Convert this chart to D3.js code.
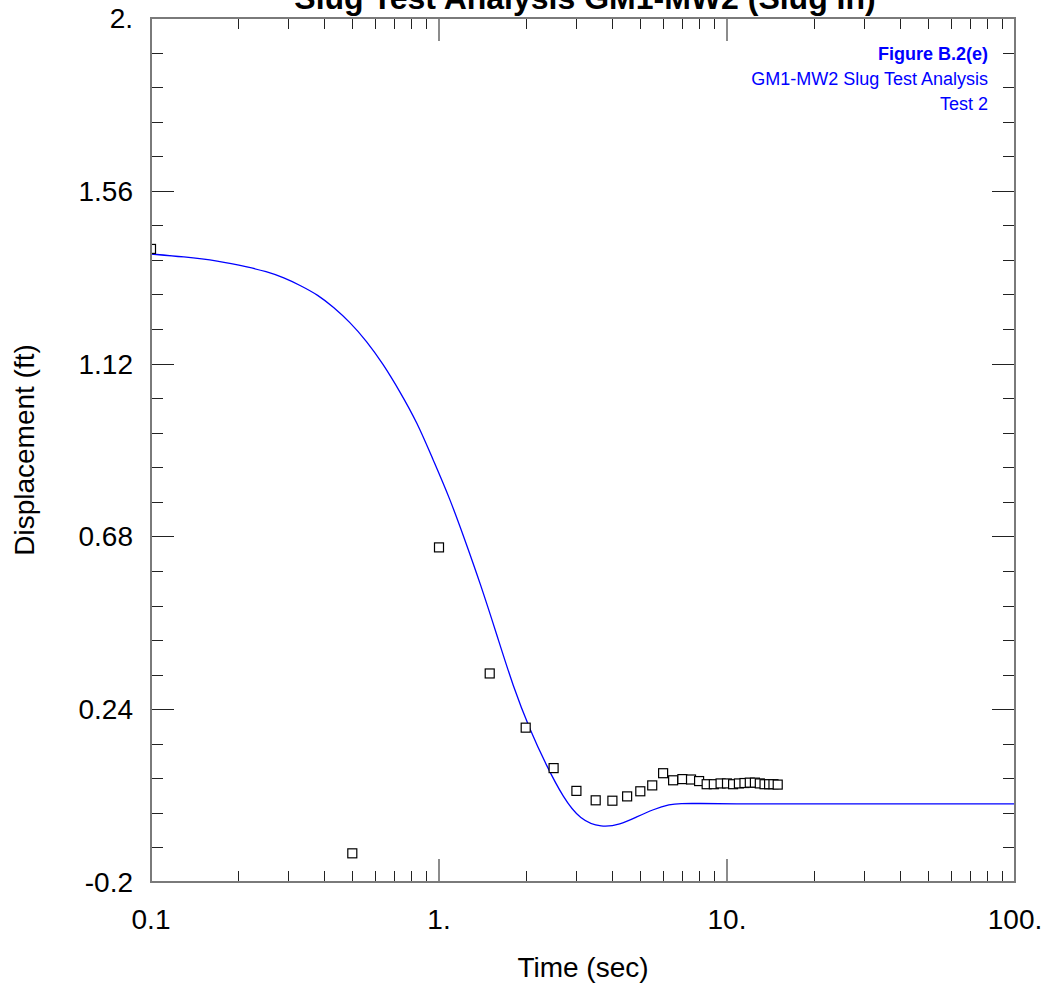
<!DOCTYPE html>
<html>
<head>
<meta charset="utf-8">
<script src="https://cdn.jsdelivr.net/npm/d3@7"></script>
<style>
  html, body { margin: 0; padding: 0; background: #fff; }
  svg { display: block; font-family: "Liberation Sans", Arial, sans-serif; }
</style>
</head>
<body>
<svg id="chart" width="1047" height="984"></svg>
<script>
// Observed displacement readings (slug in, test 2)
const obsTime = [0.1, 0.5, 1, 1.5, 2, 2.5, 3, 3.5, 4, 4.5, 5, 5.5, 6, 6.5, 7, 7.5, 8,
  8.5, 9, 9.5, 10, 10.5, 11, 11.5, 12, 12.5, 13, 13.5, 14, 14.5, 15];
const obsDisp = [1.412, -0.127, 0.652, 0.331, 0.193, 0.090, 0.032, 0.008, 0.007, 0.018,
  0.031, 0.046, 0.077, 0.059, 0.062, 0.061, 0.057, 0.049, 0.049, 0.051, 0.051, 0.049,
  0.051, 0.052, 0.053, 0.053, 0.051, 0.049, 0.049, 0.049, 0.048];

// Fitted type curve
const fitTime = [0.1, 0.13, 0.17, 0.22, 0.25, 0.29, 0.33, 0.38, 0.43, 0.49, 0.56, 0.64,
  0.73, 0.84, 0.95, 1.09, 1.23, 1.39, 1.59, 1.81, 2.07, 2.37, 2.7, 3.09, 3.67, 4.25,
  4.86, 5.55, 6.34, 6.87, 8, 10, 20, 100];
const fitDisp = [1.399, 1.392, 1.382, 1.365, 1.355, 1.339, 1.319, 1.295, 1.264, 1.226,
  1.178, 1.119, 1.050, 0.970, 0.878, 0.777, 0.671, 0.561, 0.428, 0.297, 0.187, 0.094,
  0.015, -0.042, -0.062, -0.054, -0.034, -0.015, -0.002, 0.000, 0.000, -0.001, -0.001,
  -0.001];

// Axis ticks and labels
const xMajor = [0.1, 1, 10, 100];
const xMajorLabels = ["0.1", "1.", "10.", "100."];
const yMajor = [-0.2, 0.24, 0.68, 1.12, 1.56, 2.0];
const yMajorLabels = ["-0.2", "0.24", "0.68", "1.12", "1.56", "2."];
const yStep = 0.088;

const titleText = "Slug Test Analysis GM1-MW2 (Slug In)";
const noteLines = ["Figure B.2(e)", "GM1-MW2 Slug Test Analysis", "Test 2"];

const L = 151, R = 1015, T = 18, B = 882;
const svg = d3.select("#chart");

const x = d3.scaleLog().domain([0.1, 100]).range([L, R]);
const y = d3.scaleLinear().domain([-0.2, 2.0]).range([B, T]);

// clip to plotting area
svg.append("defs").append("clipPath").attr("id", "plotClip")
  .append("rect").attr("x", L).attr("y", T).attr("width", R - L).attr("height", B - T);

const plot = svg.append("g").attr("clip-path", "url(#plotClip)");

// fitted curve
const pts = fitTime.map((t, i) => [t, fitDisp[i]]);
plot.append("path")
  .datum(pts)
  .attr("fill", "none")
  .attr("stroke", "#0000ff")
  .attr("stroke-width", 1.3)
  .attr("d", d3.line().x(d => x(d[0])).y(d => y(d[1])).curve(d3.curveBasis));

// observed points as open squares
const s = 9;
plot.selectAll("rect.obs")
  .data(obsTime.map((t, i) => [t, obsDisp[i]]))
  .join("rect")
  .attr("class", "obs")
  .attr("x", d => x(d[0]) - s / 2)
  .attr("y", d => y(d[1]) - s / 2)
  .attr("width", s).attr("height", s)
  .attr("fill", "#fff")
  .attr("stroke", "#000")
  .attr("stroke-width", 1.2);

// ticks (inward on all four sides)
const ticksG = svg.append("g");
const xMinor = [];
for (let dec = 0.1; dec < 100; dec *= 10) {
  for (let k = 2; k <= 9; k++) xMinor.push(dec * k);
}
const yAll = d3.range(26).map(i => -0.2 + i * yStep);
const isMajorY = v => yMajor.some(m => Math.abs(m - v) < 1e-6);

xMinor.forEach(v => {
  const px = Math.round(x(v)) + 0.5;
  ticksG.append("line").attr("x1", px).attr("x2", px).attr("y1", B).attr("y2", B - 11)
    .attr("stroke", "#222").attr("stroke-width", 1);
  ticksG.append("line").attr("x1", px).attr("x2", px).attr("y1", T).attr("y2", T + 11)
    .attr("stroke", "#222").attr("stroke-width", 1);
});
xMajor.forEach(v => {
  const px = x(v);
  ticksG.append("line").attr("x1", px).attr("x2", px).attr("y1", B).attr("y2", B - 23)
    .attr("stroke", "#666").attr("stroke-width", 1.5);
  ticksG.append("line").attr("x1", px).attr("x2", px).attr("y1", T).attr("y2", T + 23)
    .attr("stroke", "#666").attr("stroke-width", 1.5);
});
yAll.forEach(v => {
  const py = Math.round(y(v)) + 0.5;
  const len = isMajorY(v) ? 23 : 12;
  ticksG.append("line").attr("x1", L).attr("x2", L + len).attr("y1", py).attr("y2", py)
    .attr("stroke", "#222").attr("stroke-width", 1);
  ticksG.append("line").attr("x1", R).attr("x2", R - len).attr("y1", py).attr("y2", py)
    .attr("stroke", "#222").attr("stroke-width", 1);
});

// frame
svg.append("rect")
  .attr("x", L).attr("y", T).attr("width", R - L).attr("height", B - T)
  .attr("fill", "none").attr("stroke", "#7a7a7a").attr("stroke-width", 2);

// tick labels
svg.append("g").selectAll("text")
  .data(xMajor)
  .join("text")
  .attr("x", d => x(d))
  .attr("y", 929)
  .attr("text-anchor", "middle")
  .attr("font-size", 28)
  .attr("fill", "#000")
  .text((d, i) => xMajorLabels[i]);

svg.append("g").selectAll("text")
  .data(yMajor)
  .join("text")
  .attr("x", 133)
  .attr("y", d => y(d))
  .attr("dy", "0.36em")
  .attr("text-anchor", "end")
  .attr("font-size", 28)
  .attr("fill", "#000")
  .text((d, i) => yMajorLabels[i]);

// axis titles
svg.append("text")
  .attr("x", (L + R) / 2).attr("y", 977)
  .attr("text-anchor", "middle").attr("font-size", 28)
  .text("Time (sec)");

svg.append("text")
  .attr("transform", `translate(34,${(T + B) / 2}) rotate(-90)`)
  .attr("text-anchor", "middle").attr("font-size", 28)
  .text("Displacement (ft)");

// chart title (partly above the page edge)
svg.append("text")
  .attr("x", 585).attr("y", 9)
  .attr("text-anchor", "middle").attr("font-size", 32).attr("font-weight", "bold")
  .text(titleText);

// figure note, right aligned inside the plot
svg.append("g").selectAll("text")
  .data(noteLines)
  .join("text")
  .attr("x", 988)
  .attr("y", (d, i) => 60 + i * 25)
  .attr("text-anchor", "end")
  .attr("font-size", 18)
  .attr("font-weight", (d, i) => i === 0 ? "bold" : "normal")
  .attr("fill", "#0000ff")
  .text(d => d);
</script>
</body>
</html>
